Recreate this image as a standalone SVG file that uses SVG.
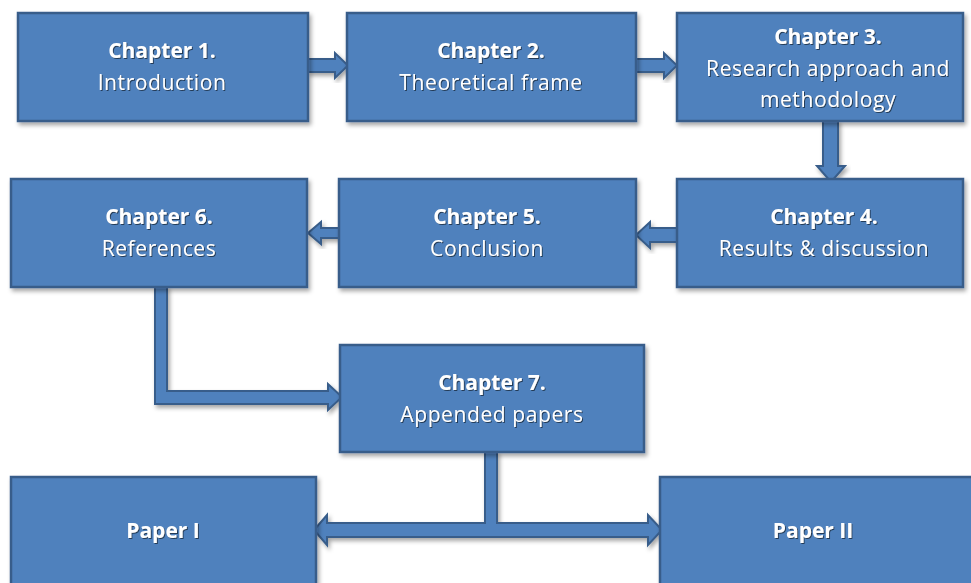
<svg xmlns="http://www.w3.org/2000/svg" width="971" height="583" viewBox="0 0 971 583">
<defs>
<filter id="sh" x="-10%" y="-10%" width="130%" height="130%">
<feDropShadow dx="2" dy="3" stdDeviation="2" flood-color="#000" flood-opacity="0.35"/>
</filter>
<filter id="tsh" x="-5%" y="-20%" width="110%" height="150%">
<feDropShadow dx="1" dy="1" stdDeviation="0.6" flood-color="#1a2a40" flood-opacity="0.8"/>
</filter>
</defs>
<style>
.box{fill:#4F81BD;stroke:#385D8A;stroke-width:2.5;filter:url(#sh)}
.arr{fill:#4F81BD;stroke:#385D8A;stroke-width:2;stroke-linejoin:miter;filter:url(#sh)}
text{font-family:"Open Sans","Liberation Sans",sans-serif;fill:#fff;text-anchor:middle;font-size:21px;letter-spacing:0.6px;filter:url(#tsh)}
.b{font-weight:bold;letter-spacing:0}
</style>
<rect width="971" height="583" fill="#fff"/>
<g id="connectors">
<path class="arr" d="M308,59 H335 V53 L348,65.5 L335,78 V72 H308 Z"/>
<path class="arr" d="M636,59 H664 V53 L677,65.5 L664,78 V72 H636 Z"/>
<path class="arr" d="M823,121 V166 H817 L831,182 L845,166 H838 V121 Z"/>
<path class="arr" d="M677,228 H650 V222 L636,235 L650,248 V242 H677 Z"/>
<path class="arr" d="M339,228 H321 V222 L308,233 L321,244 V238 H339 Z"/>
<path class="arr" d="M155,287 V404 H328 V410 L342,397 L328,384 V391 H167 V287 Z"/>
<path class="arr" d="M485,452 V523 H327 V515 L314,530 L327,545 V537 H648 V545 L662,530 L648,515 V523 H497 V452 Z"/>
</g>
<g id="ch1"><rect class="box" x="18" y="13" width="290" height="108"/><text class="b" x="162" y="58">Chapter 1.</text><text x="162" y="90">Introduction</text></g>
<g id="ch2"><rect class="box" x="347" y="13" width="289" height="108"/><text class="b" x="491" y="58">Chapter 2.</text><text x="491" y="90">Theoretical frame</text></g>
<g id="ch3"><rect class="box" x="677" y="13" width="286" height="108"/><text class="b" x="828" y="44">Chapter 3.</text><text x="828" y="76">Research approach and</text><text x="828" y="107">methodology</text></g>
<g id="ch4"><rect class="box" x="677" y="179" width="286" height="108"/><text class="b" x="824" y="224">Chapter 4.</text><text x="824" y="256">Results &amp; discussion</text></g>
<g id="ch5"><rect class="box" x="339" y="179" width="297" height="108"/><text class="b" x="487" y="224">Chapter 5.</text><text x="487" y="256">Conclusion</text></g>
<g id="ch6"><rect class="box" x="11" y="179" width="296" height="108"/><text class="b" x="159" y="224">Chapter 6.</text><text x="159" y="256">References</text></g>
<g id="ch7"><rect class="box" x="340" y="345" width="304" height="107"/><text class="b" x="492" y="390">Chapter 7.</text><text x="492" y="422">Appended papers</text></g>
<g id="paper1"><rect class="box" x="11" y="477" width="305" height="120"/><text class="b" x="163" y="538">Paper I</text></g>
<g id="paper2"><rect class="box" x="660" y="477" width="320" height="120"/><text class="b" x="813" y="538">Paper II</text></g>
</svg>
